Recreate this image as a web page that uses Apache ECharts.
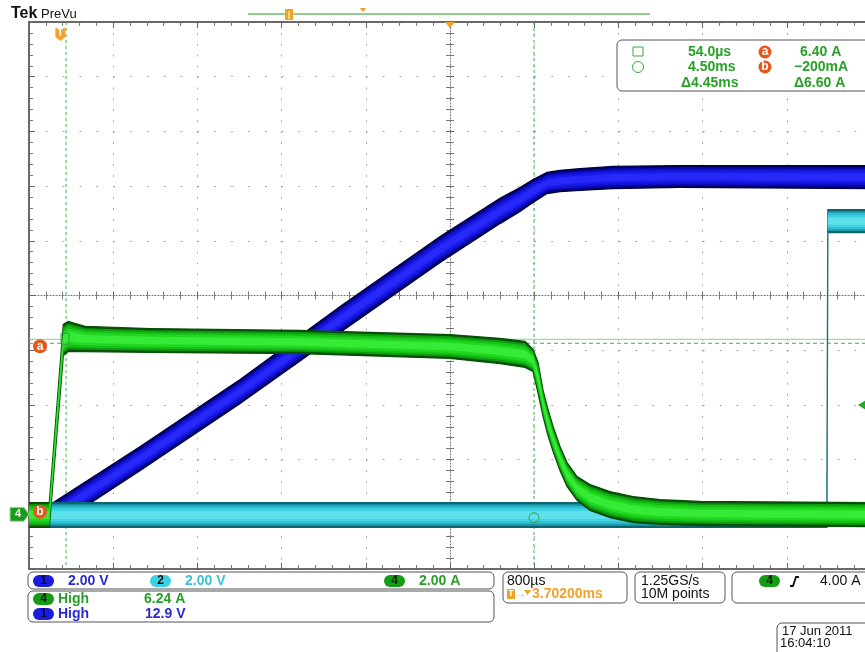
<!DOCTYPE html>
<html><head><meta charset="utf-8">
<script src="https://cdn.jsdelivr.net/npm/echarts@6/dist/echarts.min.js"></script>
<style>html,body{margin:0;padding:0;background:#fff;overflow:hidden;}#c{width:880px;height:652px;}</style>
</head><body><div id="c"></div>
<script>
// ---- acquisition settings (from the readouts) ----
const H_SCALE_MS = 0.8;            // 800 us/div, 10 divisions
const TRIG_TO_CENTER_MS = 3.702;   // T -> centre 3.70200 ms
const CH1 = {scale: 2.0, offset: -4};   // 2.00 V/div
const CH2 = {scale: 2.0, offset: -4};   // 2.00 V/div
const CH4 = {scale: 2.0, offset: -4};   // 2.00 A/div

// ---- Ch4 current (A): time in ms from trigger, upper / lower edge of the trace band ----
const ch4Time = [-0.298, -0.105, 0.028, 0.075, 0.236, 0.854, 2.278, 3.703, 4.177, 4.415, 4.491, 4.538, 4.586, 4.633, 4.681, 4.747, 4.814, 4.909, 5.032, 5.222, 5.441, 5.697, 6.077, 7.70];
const ch4High = [0.43, 0.43, 6.94, 7.05, 6.87, 6.79, 6.72, 6.57, 6.43, 6.32, 6.03, 5.55, 4.53, 3.83, 3.21, 2.48, 1.89, 1.38, 1.09, 0.83, 0.65, 0.54, 0.47, 0.43];
const ch4Low  = [-0.48, -0.48, 5.81, 5.95, 5.95, 5.92, 5.88, 5.70, 5.51, 5.37, 5.22, 4.45, 3.58, 2.88, 2.30, 1.60, 1.02, 0.51, 0.14, -0.12, -0.30, -0.37, -0.41, -0.45];

// ---- Ch1 voltage (V) ----
const ch1Time = [-0.298, -0.067, 0.759, 1.708, 2.658, 3.608, 4.177, 4.367, 4.491, 4.624, 4.747, 4.937, 5.251, 5.887, 7.70];
const ch1High = [0.43, 0.43, 2.48, 4.93, 7.60, 10.16, 11.55, 11.95, 12.24, 12.50, 12.57, 12.64, 12.72, 12.75, 12.75];
const ch1Low  = [-0.48, -0.48, 1.60, 4.05, 6.65, 9.21, 10.63, 11.07, 11.40, 11.73, 11.80, 11.84, 11.91, 11.95, 11.91];

// ---- Ch2 voltage (V) ----
const ch2Time = [-0.298, 7.283, 7.292, 7.70];
const ch2High = [0.43, 0.43, 11.14, 11.14];
const ch2Low  = [-0.48, -0.48, 10.30, 10.30];

// ---- cursors / trigger ----
const cursorTimes = [0.054, 4.50];      // ms
const cursorLevels = [6.40, -0.200];    // A (ch4)
const cursorNames = ['a', 'b'];
const trigLevel = 4.00;                 // A (ch4)

// readout texts
const readRows = [['54.0µs', '6.40 A'], ['4.50ms', '−200mA'], ['Δ4.45ms', 'Δ6.60 A']];

function sx(t) { return t + 5 * H_SCALE_MS - TRIG_TO_CENTER_MS; }
function dy(v, ch) { return v / ch.scale + ch.offset; }

const FONT = '"Liberation Sans", Arial, sans-serif';
const GREEN_T = '#27a027', BLUE_T = '#2a2ad2', CYAN_T = '#38c4d4', ORANGE = '#f2a124', RED = '#e8561c';

function bandSeries(times, hi, lo, ch, colors, z) {
  const layers = [1, 0.86, 0.7, 0.52, 0.32];
  return {
    type: 'custom', coordinateSystem: 'cartesian2d', xAxisIndex: 0, yAxisIndex: 0,
    data: [[0, 0]], z: z, silent: true, clip: true,
    renderItem: function (params, api) {
      const children = layers.map(function (f, k) {
        const up = [], dn = [];
        for (let i = 0; i < times.length; i++) {
          const mid = (hi[i] + lo[i]) / 2, half = (hi[i] - lo[i]) / 2;
          up.push(api.coord([sx(times[i]), dy(mid + half * f, ch)]));
          dn.push(api.coord([sx(times[i]), dy(mid - half * f, ch)]));
        }
        return {
          type: 'polygon', shape: {points: up.concat(dn.reverse())},
          style: k === 0 ? {fill: colors[0], stroke: colors[0], lineWidth: 1.3} : {fill: colors[k]}
        };
      });
      return {type: 'group', children: children};
    }
  };
}

const cursorSeries = {
  type: 'custom', coordinateSystem: 'cartesian2d', data: [[0, 0]], z: 1, silent: true, clip: false,
  renderItem: function (params, api) {
    const top = api.coord([0, 5])[1], bottom = api.coord([0, -5])[1];
    const left = api.coord([0, 0])[0], right = api.coord([8, 0])[0];
    const ch = [];
    cursorTimes.forEach(function (t) {
      const x = api.coord([sx(t), 0])[0];
      ch.push({type: 'line', shape: {x1: x, y1: top, x2: x, y2: bottom}, style: {stroke: '#4aaa4a', lineDash: [3, 3], lineWidth: 1}});
    });
    cursorLevels.forEach(function (v) {
      const y = api.coord([0, dy(v, CH4)])[1];
      ch.push({type: 'line', shape: {x1: left, y1: y, x2: right, y2: y}, style: {stroke: '#8fd48f', lineWidth: 1}});
      ch.push({type: 'line', shape: {x1: left, y1: y + 4, x2: right, y2: y + 4}, style: {stroke: '#4aaa4a', lineDash: [4, 3], lineWidth: 1}});
    });
    return {type: 'group', children: ch};
  }
};

const markerSeries = {
  type: 'custom', coordinateSystem: 'cartesian2d', data: [[0, 0]], z: 10, silent: true, clip: false,
  renderItem: function (params, api) {
    const top = api.coord([0, 5])[1];
    const ch = [];
    const pa = api.coord([sx(cursorTimes[0]), dy(cursorLevels[0], CH4)]);
    ch.push({type: 'rect', shape: {x: pa[0] - 5, y: pa[1] - 6, width: 8, height: 11}, style: {fill: null, stroke: '#3c9c3c', lineWidth: 1}});
    const pb = api.coord([sx(cursorTimes[1]), dy(cursorLevels[1], CH4)]);
    ch.push({type: 'circle', shape: {cx: pb[0], cy: pb[1] - 2, r: 5}, style: {fill: null, stroke: '#3c9c3c', lineWidth: 1}});
    cursorLevels.forEach(function (v, i) {
      const y = api.coord([0, dy(v, CH4)])[1] + (i === 0 ? 7 : -8);
      ch.push({type: 'circle', shape: {cx: 40, cy: y, r: 7}, style: {fill: RED}});
      ch.push({type: 'text', style: {x: 40, y: y, text: cursorNames[i], fill: '#fff', font: 'bold 12px ' + FONT, align: 'center', verticalAlign: 'middle'}});
    });
    const g = api.coord([0, dy(0, CH4)])[1];
    ch.push({type: 'polygon', shape: {points: [[10, g - 7], [24, g - 7], [29, g], [24, g + 7], [10, g + 7]]}, style: {fill: '#1d9a1d', stroke: '#9fe09f', lineWidth: 1}});
    ch.push({type: 'text', style: {x: 18, y: g, text: '4', fill: '#eaffea', font: 'bold 11px ' + FONT, align: 'center', verticalAlign: 'middle'}});
    const tl = api.coord([0, dy(trigLevel, CH4)])[1];
    ch.push({type: 'polygon', shape: {points: [[858, tl], [866, tl - 5], [866, tl + 5]]}, style: {fill: '#22aa22'}});
    const tx = api.coord([sx(0), 0])[0];
    ch.push({type: 'polygon', shape: {points: [[tx - 5, 28], [tx + 5, 28], [tx + 5, 37], [tx, 41], [tx - 5, 37]]}, style: {fill: ORANGE}});
    ch.push({type: 'text', style: {x: tx, y: 33, text: 'T', fill: '#fff', font: 'bold 10px ' + FONT, align: 'center', verticalAlign: 'middle'}});
    const cx = api.coord([5 * H_SCALE_MS, 0])[0];
    ch.push({type: 'polygon', shape: {points: [[cx - 5, top], [cx + 5, top], [cx, top + 6]]}, style: {fill: ORANGE}});
    return {type: 'group', children: ch};
  }
};

function xAx(extra) {
  return Object.assign({
    type: 'value', min: 0, max: 10 * H_SCALE_MS, interval: H_SCALE_MS, gridIndex: 0,
    axisLabel: {show: false}, splitLine: {show: false},
    axisLine: {show: true, onZero: false, lineStyle: {color: '#3a3a3a', width: 1.5}},
    axisTick: {show: true, inside: true, length: 6, lineStyle: {color: '#666'}},
    minorTick: {show: true, splitNumber: 5, length: 4, lineStyle: {color: '#777'}}
  }, extra);
}
function yAx(extra) {
  return Object.assign({
    type: 'value', min: -5, max: 5, interval: 1, gridIndex: 0,
    axisLabel: {show: false}, splitLine: {show: false},
    axisLine: {show: true, onZero: false, lineStyle: {color: '#3a3a3a', width: 1.5}},
    axisTick: {show: true, inside: true, length: 6, lineStyle: {color: '#666'}},
    minorTick: {show: true, splitNumber: 5, length: 4, lineStyle: {color: '#777'}}
  }, extra);
}

const GW = 842, GH = 547;
const centerLine = {show: true, onZero: false, lineStyle: {color: '#707070', width: 1, type: [1, 2]}};

function txt(x, y, s, color, weight, size, align) {
  return {type: 'text', z: 100, style: {x: x, y: y, text: s, fill: color, font: (weight || 'normal') + ' ' + (size || 14) + 'px ' + FONT, align: align || 'left', verticalAlign: 'middle'}};
}
function box(x, y, w, h) {
  return {type: 'rect', z: 99, shape: {x: x, y: y, width: w, height: h, r: 5}, style: {fill: '#fff', stroke: '#555', lineWidth: 1}};
}
function pill(x, y, label, fill, tcol) {
  return [{type: 'rect', z: 100, shape: {x: x, y: y - 6, width: 21, height: 12, r: 6}, style: {fill: fill}},
          txt(x + 10.5, y, label, tcol, 'bold', 12, 'center')];
}

const graphics = [].concat(
  [txt(11, 14, 'Tek', '#111', 'bold', 16), txt(41, 14, 'PreVu', '#111', 'normal', 13)],
  [{type: 'line', z: 100, shape: {x1: 248, y1: 14, x2: 650, y2: 14}, style: {stroke: '#6cbf6c', lineWidth: 1.5}},
   {type: 'rect', z: 101, shape: {x: 285, y: 9, width: 8, height: 11}, style: {fill: ORANGE}},
   {type: 'line', z: 102, shape: {x1: 289, y1: 11, x2: 289, y2: 19}, style: {stroke: '#fff', lineWidth: 1}},
   {type: 'polygon', z: 101, shape: {points: [[360, 8], [366, 8], [363, 12]]}, style: {fill: ORANGE}}],
  [box(617, 40, 262, 51),
   {type: 'rect', z: 100, shape: {x: 633, y: 47, width: 10, height: 9}, style: {fill: null, stroke: '#3aa83a', lineWidth: 1}},
   {type: 'circle', z: 100, shape: {cx: 638, cy: 67, r: 5.5}, style: {fill: null, stroke: '#3aa83a', lineWidth: 1}},
   txt(688, 52, readRows[0][0], GREEN_T, 'bold'), txt(688, 67, readRows[1][0], GREEN_T, 'bold'), txt(681, 83, readRows[2][0], GREEN_T, 'bold'),
   {type: 'circle', z: 100, shape: {cx: 765, cy: 52, r: 6.5}, style: {fill: RED}}, txt(765, 52, 'a', '#fff', 'bold', 12, 'center'),
   {type: 'circle', z: 100, shape: {cx: 765, cy: 67, r: 6.5}, style: {fill: RED}}, txt(765, 67, 'b', '#fff', 'bold', 12, 'center'),
   txt(800, 52, readRows[0][1], GREEN_T, 'bold'), txt(794, 67, readRows[1][1], GREEN_T, 'bold'), txt(794, 83, readRows[2][1], GREEN_T, 'bold')],
  [box(28, 572, 466, 17)],
  pill(33, 581, '1', '#1c1cdc', '#0a0a40'), [txt(68, 581, '2.00 V', BLUE_T, 'bold')],
  pill(150, 581, '2', '#3ad2e2', '#111'), [txt(185, 581, '2.00 V', CYAN_T, 'bold')],
  pill(384, 581, '4', '#149c14', '#0a200a'), [txt(419, 581, '2.00 A', GREEN_T, 'bold')],
  [box(28, 591, 466, 31)],
  pill(33, 599, '4', '#149c14', '#0a200a'), [txt(58, 599, 'High', GREEN_T, 'bold'), txt(144, 599, '6.24 A', GREEN_T, 'bold')],
  pill(33, 614, '1', '#1c1cdc', '#0a0a40'), [txt(58, 614, 'High', BLUE_T, 'bold'), txt(145, 614, '12.9 V', BLUE_T, 'bold')],
  [box(503, 572, 124, 31), txt(507, 581, '800µs', '#111'),
   {type: 'rect', z: 100, shape: {x: 507, y: 589, width: 8, height: 10}, style: {fill: ORANGE}},
   txt(511, 594, 'T', '#fff', 'bold', 9, 'center'),
   txt(516, 594, '→', ORANGE, 'bold', 10),
   {type: 'polygon', z: 100, shape: {points: [[524, 590], [531, 590], [527.5, 595]]}, style: {fill: ORANGE}},
   txt(532, 594, '3.70200ms', ORANGE, 'bold')],
  [box(635, 572, 90, 31), txt(641, 581, '1.25GS/s', '#111'), txt(641, 594, '10M points', '#111')],
  [box(732, 572, 150, 31)],
  pill(759, 581, '4', '#149c14', '#0a200a'),
  [{type: 'polyline', z: 100, shape: {points: [[790, 586], [793, 586], [796, 577], [799, 577]]}, style: {stroke: '#111', lineWidth: 1.8, fill: null}},
   txt(820, 581, '4.00 A', '#111')],
  [box(777, 623, 100, 40), txt(782, 631, '17 Jun 2011', '#111', 'normal', 13), txt(780, 643, '16:04:10', '#111', 'normal', 13)]
);

const chart = echarts.init(document.getElementById('c'), null, {renderer: 'canvas'});
chart.setOption({
  backgroundColor: '#ffffff',
  animation: false,
  grid: {left: 29, top: 22, width: GW, height: GH, containLabel: false},
  xAxis: [
    xAx({position: 'bottom', splitLine: {show: true, lineStyle: {color: '#9c9c9c', width: 1, type: [1.6, 9.34]}}}),
    xAx({position: 'top'}),
    xAx({position: 'bottom', offset: -GH / 2, axisLine: centerLine, axisTick: {show: true, inside: true, length: 4, lineStyle: {color: '#666'}}, minorTick: {show: true, splitNumber: 5, length: 4, lineStyle: {color: '#777'}}}),
    xAx({position: 'bottom', offset: -GH / 2, axisLine: {show: false, onZero: false}, axisTick: {show: true, inside: false, length: 4, lineStyle: {color: '#666'}}, minorTick: {show: true, splitNumber: 5, length: 4, lineStyle: {color: '#777'}}})
  ],
  yAxis: [
    yAx({position: 'left', splitLine: {show: true, lineStyle: {color: '#9c9c9c', width: 1, type: [1.6, 15.25]}}}),
    yAx({position: 'left', offset: -GW / 2, axisLine: centerLine, axisTick: {show: true, inside: true, length: 4, lineStyle: {color: '#666'}}, minorTick: {show: true, splitNumber: 5, length: 4, lineStyle: {color: '#777'}}}),
    yAx({position: 'left', offset: -GW / 2, axisLine: {show: false, onZero: false}, axisTick: {show: true, inside: false, length: 4, lineStyle: {color: '#666'}}, minorTick: {show: true, splitNumber: 5, length: 4, lineStyle: {color: '#777'}}})
  ],
  series: [
    cursorSeries,
    bandSeries(ch1Time, ch1High, ch1Low, CH1, ['#00004e', '#0707a6', '#1111d0', '#1a1aea', '#2828f8'], 2),
    bandSeries(ch2Time, ch2High, ch2Low, CH2, ['#0c6672', '#1d9cae', '#2fbfd2', '#3fd2e2', '#5ce0ec'], 3),
    bandSeries(ch4Time, ch4High, ch4Low, CH4, ['#075007', '#0f9a0f', '#17c017', '#1fd81f', '#38ea38'], 4),
    markerSeries
  ],
  graphic: {elements: graphics}
});
</script>
</body></html>
